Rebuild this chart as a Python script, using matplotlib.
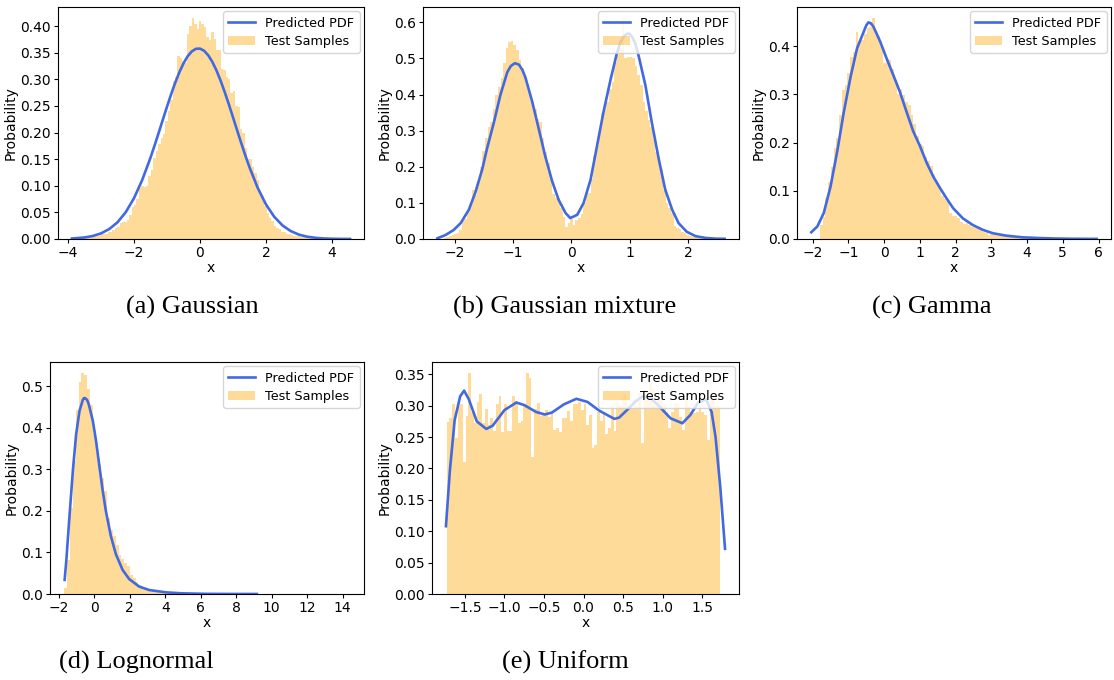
"""Predicted PDF vs. test sample histograms for five distributions."""

import matplotlib
matplotlib.use('Agg')
from matplotlib import pyplot as plt
from matplotlib.ticker import MultipleLocator, FormatStrFormatter
import numpy as np

# (a) Gaussian
gauss_range = (-3.75, 3.55)
gauss_hist = [
    0.002, 0.001, 0.002, 0.002, 0.003, 0.004, 0.004, 0.005, 0.006, 0.005,
    0.009, 0.010, 0.009, 0.013, 0.014, 0.016, 0.020, 0.022, 0.030, 0.031,
    0.032, 0.036, 0.045, 0.060, 0.064, 0.075, 0.095, 0.100, 0.097, 0.100,
    0.118, 0.130, 0.152, 0.165, 0.178, 0.190, 0.197, 0.222, 0.240, 0.262,
    0.297, 0.305, 0.343, 0.340, 0.335, 0.330, 0.385, 0.400, 0.415, 0.404,
    0.395, 0.410, 0.403, 0.398, 0.380, 0.373, 0.389, 0.375, 0.355, 0.355,
    0.320, 0.318, 0.305, 0.300, 0.275, 0.278, 0.250, 0.248, 0.206, 0.200,
    0.170, 0.150, 0.150, 0.135, 0.124, 0.110, 0.085, 0.080, 0.062, 0.048,
    0.040, 0.033, 0.025, 0.020, 0.018, 0.014, 0.013, 0.010, 0.009, 0.008,
    0.006, 0.005, 0.005, 0.004, 0.003, 0.003, 0.002, 0.002, 0.001, 0.001]
gauss_pdf_x = [
    -3.88, -3.5, -3.25, -3.0, -2.75, -2.5, -2.25, -2.0, -1.75, -1.5, -1.375,
    -1.25, -1.125, -1.0, -0.875, -0.75, -0.625, -0.5, -0.375, -0.25, -0.125,
    0.0, 0.125, 0.25, 0.375, 0.5, 0.625, 0.75, 0.875, 1.0, 1.125, 1.25,
    1.375, 1.5, 1.75, 2.0, 2.25, 2.5, 2.75, 3.0, 3.25, 3.5, 3.75, 4.0, 4.25,
    4.55]
gauss_pdf_y = [
    0.0009, 0.0029, 0.0056, 0.0105, 0.0186, 0.0313, 0.0502, 0.0765, 0.1108,
    0.1525, 0.1756, 0.1996, 0.2240, 0.2482, 0.2716, 0.2934, 0.3130, 0.3297,
    0.3430, 0.3522, 0.3572, 0.3576, 0.3536, 0.3452, 0.3327, 0.3167, 0.2976,
    0.2760, 0.2530, 0.2289, 0.2044, 0.1803, 0.1570, 0.1350, 0.0961, 0.0650,
    0.0418, 0.0256, 0.0149, 0.0082, 0.0043, 0.0022, 0.0010, 0.0005, 0.0002,
    0.0001]

# (b) Gaussian mixture
mix_range = (-2.19, 2.24)
mix_hist = [
    0.004, 0.006, 0.008, 0.012, 0.014, 0.016, 0.025, 0.050, 0.055, 0.080,
    0.095, 0.137, 0.123, 0.160, 0.200, 0.244, 0.280, 0.310, 0.323, 0.360,
    0.400, 0.420, 0.445, 0.487, 0.530, 0.545, 0.549, 0.538, 0.524, 0.496,
    0.475, 0.454, 0.430, 0.398, 0.370, 0.360, 0.333, 0.323, 0.280, 0.240,
    0.210, 0.165, 0.125, 0.114, 0.113, 0.086, 0.060, 0.034, 0.045, 0.055,
    0.040, 0.053, 0.058, 0.070, 0.100, 0.137, 0.128, 0.165, 0.230, 0.260,
    0.300, 0.350, 0.360, 0.380, 0.415, 0.435, 0.490, 0.510, 0.530, 0.612,
    0.500, 0.505, 0.503, 0.500, 0.480, 0.455, 0.426, 0.380, 0.355, 0.330,
    0.310, 0.277, 0.240, 0.210, 0.193, 0.137, 0.100, 0.085, 0.072, 0.035,
    0.030, 0.027, 0.020, 0.016, 0.011, 0.008, 0.006, 0.005, 0.004, 0.003]
mix_pdf_x = [
    -2.30, -2.16, -2.02, -1.90, -1.76, -1.65, -1.53, -1.45, -1.33, -1.22,
    -1.10, -1.04, -0.97, -0.90, -0.84, -0.79, -0.67, -0.56, -0.45, -0.33,
    -0.22, -0.10, -0.02, 0.10, 0.21, 0.33, 0.44, 0.55, 0.67, 0.78, 0.84,
    0.90, 0.95, 0.99, 1.04, 1.10, 1.15, 1.27, 1.38, 1.50, 1.61, 1.73, 1.84,
    1.98, 2.13, 2.30, 2.47, 2.63]
mix_pdf_y = [
    0.002, 0.011, 0.025, 0.044, 0.081, 0.128, 0.193, 0.249, 0.323, 0.398,
    0.462, 0.479, 0.487, 0.483, 0.468, 0.448, 0.379, 0.305, 0.230, 0.160,
    0.109, 0.072, 0.058, 0.067, 0.100, 0.165, 0.258, 0.351, 0.440, 0.514,
    0.545, 0.561, 0.568, 0.569, 0.561, 0.540, 0.510, 0.426, 0.323, 0.221,
    0.137, 0.081, 0.044, 0.020, 0.008, 0.003, 0.001, 0.0005]

# (c) Gamma
gamma_range = (-1.8, 5.9)
gamma_hist = [
    0.030, 0.045, 0.085, 0.118, 0.150, 0.188, 0.210, 0.256, 0.308, 0.320,
    0.345, 0.378, 0.388, 0.430, 0.410, 0.413, 0.425, 0.437, 0.440, 0.458,
    0.423, 0.420, 0.400, 0.364, 0.374, 0.371, 0.353, 0.330, 0.300, 0.311,
    0.298, 0.285, 0.277, 0.256, 0.238, 0.214, 0.197, 0.193, 0.170, 0.162,
    0.151, 0.134, 0.116, 0.109, 0.090, 0.082, 0.078, 0.054, 0.048, 0.047,
    0.043, 0.036, 0.031, 0.033, 0.030, 0.024, 0.022, 0.020, 0.019, 0.015,
    0.012, 0.008, 0.013, 0.012, 0.009, 0.008, 0.008, 0.007, 0.006, 0.005,
    0.005, 0.004, 0.004, 0.004, 0.003, 0.003, 0.003, 0.002, 0.002, 0.002,
    0.001, 0.001, 0.001, 0.001, 0.001, 0.0005, 0.0005, 0.0005, 0.0005, 0.0005,
    0.0005, 0.0, 0.0005, 0.0, 0.0, 0.0005, 0.0, 0.0, 0.0, 0.0005]
gamma_pdf_x = [
    -2.04, -1.87, -1.69, -1.50, -1.31, -1.13, -0.94, -0.76, -0.57, -0.50,
    -0.44, -0.37, -0.30, -0.11, 0.07, 0.26, 0.44, 0.63, 0.81, 1.00, 1.19,
    1.37, 1.56, 1.74, 1.93, 2.20, 2.48, 2.76, 3.04, 3.41, 3.87, 4.33, 4.80,
    5.26, 5.95]
gamma_pdf_y = [
    0.014, 0.026, 0.054, 0.109, 0.183, 0.263, 0.336, 0.395, 0.430, 0.443,
    0.449, 0.447, 0.440, 0.409, 0.374, 0.339, 0.305, 0.263, 0.224, 0.193,
    0.158, 0.130, 0.106, 0.085, 0.064, 0.043, 0.029, 0.019, 0.012, 0.007,
    0.0035, 0.002, 0.001, 0.0005, 0.0002]

# (d) Lognormal
logn_range = (-1.7, 14.4)
logn_hist = [
    0.014, 0.082, 0.207, 0.320, 0.443, 0.510, 0.532, 0.527, 0.494, 0.455,
    0.385, 0.340, 0.312, 0.280, 0.248, 0.183, 0.155, 0.139, 0.118, 0.094,
    0.085, 0.074, 0.068, 0.046, 0.038, 0.030, 0.022, 0.018, 0.014, 0.011,
    0.009, 0.007, 0.005, 0.004, 0.004, 0.003, 0.002, 0.002, 0.002, 0.002,
    0.002, 0.001, 0.001, 0.001, 0.001, 0.001, 0.001, 0.001, 0.001, 0.001,
    0.001, 0.0005, 0.0005, 0.0005, 0.0005, 0.0005, 0.0005, 0.0005, 0.0005,
    0.0005, 0.0005, 0.0005, 0.0005, 0.0005, 0.0005, 0.0005, 0.0005, 0.0005,
    0.0005, 0.0005, 0.0005, 0.0003, 0.0003, 0.0003, 0.0003, 0.0003, 0.0003,
    0.0003, 0.0003, 0.0003, 0.0003, 0.0003, 0.0003, 0.0003, 0.0003, 0.0003,
    0.0003, 0.0003, 0.0003, 0.0003, 0.0003, 0.0003, 0.0003, 0.0003, 0.0003,
    0.0003, 0.0003, 0.0003, 0.0003, 0.0003]
logn_pdf_x = [
    -1.68, -1.59, -1.40, -1.21, -1.03, -0.84, -0.65, -0.58, -0.50, -0.41,
    -0.32, -0.09, 0.09, 0.28, 0.47, 0.65, 0.93, 1.21, 1.59, 1.96, 2.52,
    3.08, 4.02, 4.95, 6.26, 7.76, 9.16]
logn_pdf_y = [
    0.034, 0.078, 0.191, 0.300, 0.385, 0.441, 0.468, 0.472, 0.471, 0.467,
    0.457, 0.417, 0.369, 0.308, 0.248, 0.199, 0.139, 0.096, 0.058, 0.036,
    0.018, 0.0097, 0.004, 0.0016, 0.0004, 0.0001, 0.00005]

# (e) Uniform
unif_range = (-1.732, 1.732)
unif_hist = [
    0.274, 0.280, 0.302, 0.249, 0.300, 0.302, 0.210, 0.284, 0.352, 0.290,
    0.272, 0.306, 0.318, 0.272, 0.295, 0.270, 0.280, 0.260, 0.302, 0.315,
    0.258, 0.302, 0.260, 0.260, 0.315, 0.308, 0.272, 0.275, 0.300, 0.352,
    0.344, 0.219, 0.295, 0.305, 0.283, 0.288, 0.293, 0.282, 0.290, 0.262,
    0.265, 0.258, 0.280, 0.280, 0.291, 0.276, 0.302, 0.302, 0.306, 0.293,
    0.302, 0.270, 0.285, 0.232, 0.238, 0.290, 0.276, 0.288, 0.255, 0.265,
    0.300, 0.260, 0.305, 0.300, 0.318, 0.320, 0.300, 0.296, 0.310, 0.298,
    0.320, 0.240, 0.325, 0.310, 0.338, 0.325, 0.300, 0.312, 0.310, 0.300,
    0.290, 0.265, 0.290, 0.305, 0.303, 0.282, 0.262, 0.310, 0.300, 0.290,
    0.288, 0.290, 0.300, 0.290, 0.285, 0.246, 0.310, 0.310, 0.300, 0.300]
unif_pdf_x = [
    -1.74, -1.69, -1.63, -1.56, -1.51, -1.45, -1.35, -1.23, -1.15, -1.0,
    -0.85, -0.75, -0.6, -0.49, -0.4, -0.25, -0.09, 0.05, 0.2, 0.39, 0.45,
    0.55, 0.65, 0.75, 0.85, 0.95, 1.1, 1.25, 1.35, 1.45, 1.55, 1.62, 1.67,
    1.73, 1.79]
unif_pdf_y = [
    0.108, 0.197, 0.277, 0.315, 0.324, 0.310, 0.275, 0.263, 0.268, 0.293,
    0.305, 0.301, 0.290, 0.286, 0.289, 0.302, 0.311, 0.306, 0.292, 0.279,
    0.281, 0.293, 0.306, 0.315, 0.312, 0.300, 0.280, 0.272, 0.285, 0.305,
    0.310, 0.290, 0.250, 0.170, 0.072]

PANELS = [
    ('(a) Gaussian', gauss_range, gauss_hist, gauss_pdf_x, gauss_pdf_y),
    ('(b) Gaussian mixture', mix_range, mix_hist, mix_pdf_x, mix_pdf_y),
    ('(c) Gamma', gamma_range, gamma_hist, gamma_pdf_x, gamma_pdf_y),
    ('(d) Lognormal', logn_range, logn_hist, logn_pdf_x, logn_pdf_y),
    ('(e) Uniform', unif_range, unif_hist, unif_pdf_x, unif_pdf_y),
]

# tick spacing (x, y) and y tick format per panel
TICKS = [(2, 0.05, '%.2f'), (1, 0.1, '%.1f'), (1, 0.1, '%.1f'),
         (2, 0.1, '%.1f'), (0.5, 0.05, '%.2f')]

# axes rectangles in pixels: left, top, right, bottom (figure is 1114x680)
W, H = 1114, 680
BOXES = [
    (58, 7, 364, 239),
    (423, 7, 739, 239),
    (797, 7, 1111, 239),
    (50, 362, 364, 594),
    (432, 362, 739, 594),
]
# caption centres in pixels
CAPTIONS = [(192, 307), (565, 307), (932, 307), (136, 662), (565, 662)]


def draw_panel(ax, rng, hist, pdf_x, pdf_y, ticks):
    """Draw histogram bars and predicted pdf line."""
    edges = np.linspace(rng[0], rng[1], len(hist) + 1)
    ax.plot(pdf_x, pdf_y, color='royalblue', lw=1.9, label='Predicted PDF')
    ax.bar(edges[:-1], hist, width=np.diff(edges), align='edge',
           color='orange', alpha=0.4, label='Test Samples')
    ax.xaxis.set_major_locator(MultipleLocator(ticks[0]))
    ax.yaxis.set_major_locator(MultipleLocator(ticks[1]))
    ax.yaxis.set_major_formatter(FormatStrFormatter(ticks[2]))
    ax.set_xlabel('x', fontsize=10, labelpad=1)
    ax.set_ylabel('Probability', fontsize=10, labelpad=2)
    ax.tick_params(labelsize=10, length=3, pad=2)
    ax.legend(loc='upper right', fontsize=9.2, borderaxespad=0.35,
              handlelength=2.1, borderpad=0.4, labelspacing=0.4)


fig = plt.figure(figsize=(W / 100, H / 100), dpi=100)
for (cap, rng, hist, px, py), box, pos, tk in zip(PANELS, BOXES, CAPTIONS,
                                                    TICKS):
    l, t, r, b = box
    ax = fig.add_axes([l / W, 1 - b / H, (r - l) / W, (b - t) / H])
    draw_panel(ax, rng, hist, px, py, tk)
    fig.text(pos[0] / W, 1 - pos[1] / H, cap, ha='center', va='center',
             fontsize=19, family='Liberation Serif')

fig.savefig('out.png', dpi=100)
